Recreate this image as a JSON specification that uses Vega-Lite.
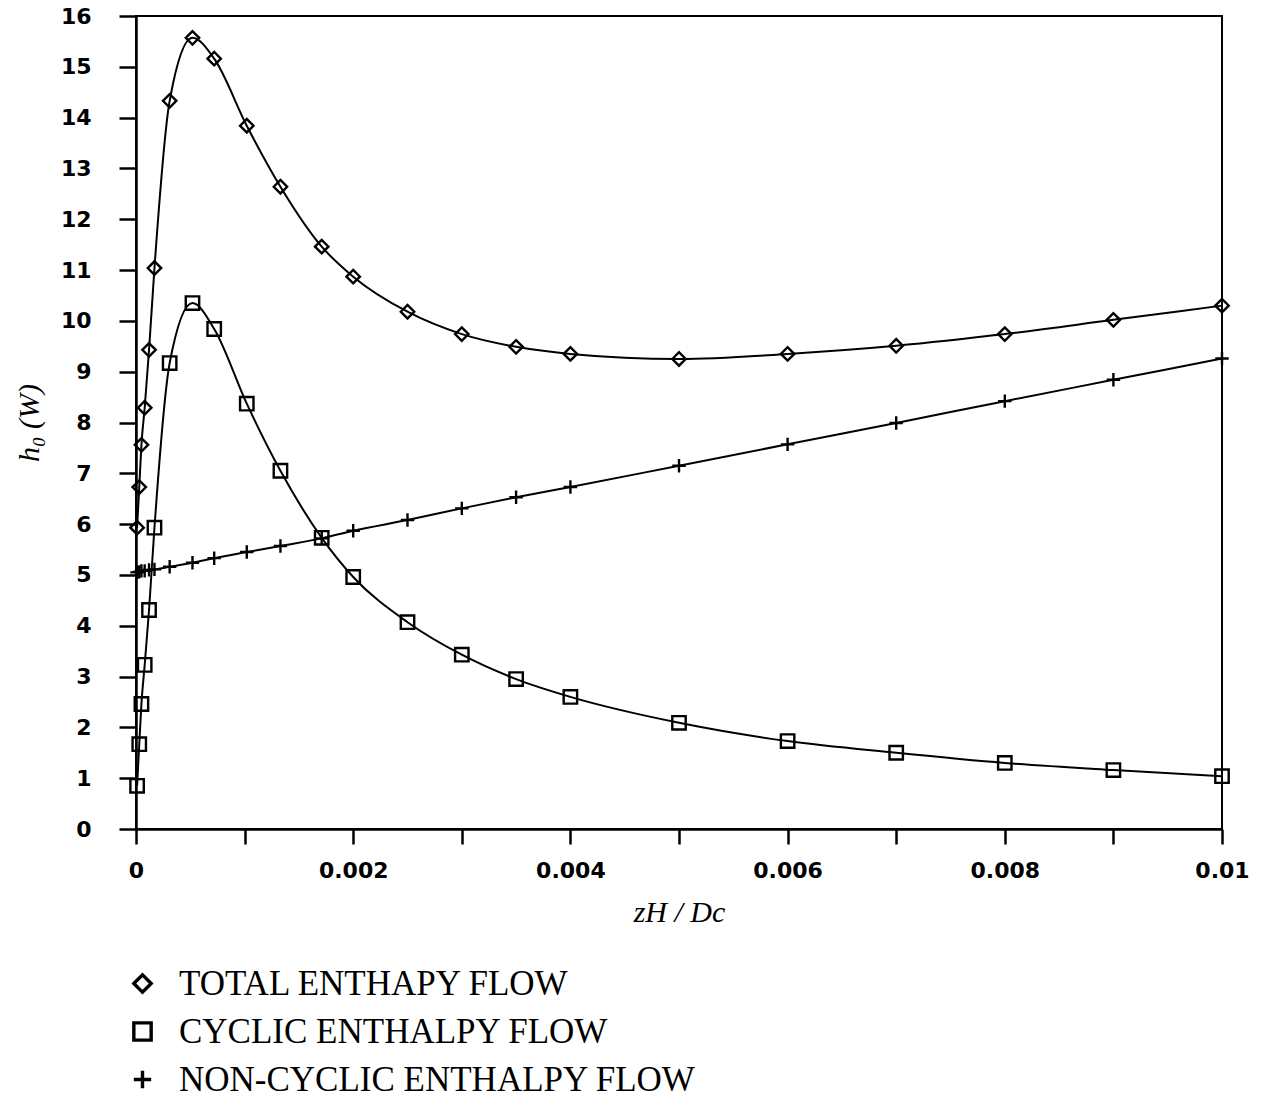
{
  "$schema": "https://vega.github.io/schema/vega-lite/v6.json",
  "autosize": "none",
  "padding": {"left": 136, "top": 16, "right": 39, "bottom": 268},
  "width": 1086,
  "height": 813,
  "background": "white",
  "config": {
    "view": {"stroke": "black", "strokeWidth": 2},
    "axis": {
      "grid": false,
      "domainColor": "black",
      "domainWidth": 2.5,
      "tickColor": "black",
      "tickWidth": 2.5,
      "labelFont": "DejaVu Sans",
      "labelFontSize": 22,
      "labelFontWeight": "bold",
      "labelColor": "black",
      "titleFont": "Liberation Serif",
      "titleFontStyle": "italic",
      "titleFontWeight": "normal",
      "titleFontSize": 30,
      "titleColor": "black"
    }
  },
  "data": {
    "values": [
      {"x": 0.00001, "series": "TOTAL ENTHAPY FLOW", "y": 5.93},
      {"x": 0.00003, "series": "TOTAL ENTHAPY FLOW", "y": 6.73},
      {"x": 0.00005, "series": "TOTAL ENTHAPY FLOW", "y": 7.56},
      {"x": 0.00008, "series": "TOTAL ENTHAPY FLOW", "y": 8.29},
      {"x": 0.00012, "series": "TOTAL ENTHAPY FLOW", "y": 9.43},
      {"x": 0.00017, "series": "TOTAL ENTHAPY FLOW", "y": 11.04},
      {"x": 0.00031, "series": "TOTAL ENTHAPY FLOW", "y": 14.33},
      {"x": 0.00052, "series": "TOTAL ENTHAPY FLOW", "y": 15.57},
      {"x": 0.00072, "series": "TOTAL ENTHAPY FLOW", "y": 15.16},
      {"x": 0.00102, "series": "TOTAL ENTHAPY FLOW", "y": 13.84},
      {"x": 0.00133, "series": "TOTAL ENTHAPY FLOW", "y": 12.64},
      {"x": 0.00171, "series": "TOTAL ENTHAPY FLOW", "y": 11.46},
      {"x": 0.002, "series": "TOTAL ENTHAPY FLOW", "y": 10.87},
      {"x": 0.0025, "series": "TOTAL ENTHAPY FLOW", "y": 10.18},
      {"x": 0.003, "series": "TOTAL ENTHAPY FLOW", "y": 9.74},
      {"x": 0.0035, "series": "TOTAL ENTHAPY FLOW", "y": 9.49},
      {"x": 0.004, "series": "TOTAL ENTHAPY FLOW", "y": 9.35},
      {"x": 0.005, "series": "TOTAL ENTHAPY FLOW", "y": 9.25},
      {"x": 0.006, "series": "TOTAL ENTHAPY FLOW", "y": 9.35},
      {"x": 0.007, "series": "TOTAL ENTHAPY FLOW", "y": 9.51},
      {"x": 0.008, "series": "TOTAL ENTHAPY FLOW", "y": 9.74},
      {"x": 0.009, "series": "TOTAL ENTHAPY FLOW", "y": 10.02},
      {"x": 0.01, "series": "TOTAL ENTHAPY FLOW", "y": 10.3},
      {"x": 0.00001, "series": "CYCLIC ENTHALPY FLOW", "y": 0.85},
      {"x": 0.00003, "series": "CYCLIC ENTHALPY FLOW", "y": 1.67},
      {"x": 0.00005, "series": "CYCLIC ENTHALPY FLOW", "y": 2.46},
      {"x": 0.00008, "series": "CYCLIC ENTHALPY FLOW", "y": 3.23},
      {"x": 0.00012, "series": "CYCLIC ENTHALPY FLOW", "y": 4.31},
      {"x": 0.00017, "series": "CYCLIC ENTHALPY FLOW", "y": 5.93},
      {"x": 0.00031, "series": "CYCLIC ENTHALPY FLOW", "y": 9.17},
      {"x": 0.00052, "series": "CYCLIC ENTHALPY FLOW", "y": 10.35},
      {"x": 0.00072, "series": "CYCLIC ENTHALPY FLOW", "y": 9.84},
      {"x": 0.00102, "series": "CYCLIC ENTHALPY FLOW", "y": 8.37},
      {"x": 0.00133, "series": "CYCLIC ENTHALPY FLOW", "y": 7.05},
      {"x": 0.00171, "series": "CYCLIC ENTHALPY FLOW", "y": 5.73},
      {"x": 0.002, "series": "CYCLIC ENTHALPY FLOW", "y": 4.96},
      {"x": 0.0025, "series": "CYCLIC ENTHALPY FLOW", "y": 4.07},
      {"x": 0.003, "series": "CYCLIC ENTHALPY FLOW", "y": 3.43},
      {"x": 0.0035, "series": "CYCLIC ENTHALPY FLOW", "y": 2.95},
      {"x": 0.004, "series": "CYCLIC ENTHALPY FLOW", "y": 2.6},
      {"x": 0.005, "series": "CYCLIC ENTHALPY FLOW", "y": 2.09},
      {"x": 0.006, "series": "CYCLIC ENTHALPY FLOW", "y": 1.73},
      {"x": 0.007, "series": "CYCLIC ENTHALPY FLOW", "y": 1.5},
      {"x": 0.008, "series": "CYCLIC ENTHALPY FLOW", "y": 1.3},
      {"x": 0.009, "series": "CYCLIC ENTHALPY FLOW", "y": 1.16},
      {"x": 0.01, "series": "CYCLIC ENTHALPY FLOW", "y": 1.04},
      {"x": 0.00001, "series": "NON-CYCLIC ENTHALPY FLOW", "y": 5.05},
      {"x": 0.00003, "series": "NON-CYCLIC ENTHALPY FLOW", "y": 5.06},
      {"x": 0.00005, "series": "NON-CYCLIC ENTHALPY FLOW", "y": 5.08},
      {"x": 0.00008, "series": "NON-CYCLIC ENTHALPY FLOW", "y": 5.08},
      {"x": 0.00012, "series": "NON-CYCLIC ENTHALPY FLOW", "y": 5.1},
      {"x": 0.00017, "series": "NON-CYCLIC ENTHALPY FLOW", "y": 5.11},
      {"x": 0.00031, "series": "NON-CYCLIC ENTHALPY FLOW", "y": 5.16},
      {"x": 0.00052, "series": "NON-CYCLIC ENTHALPY FLOW", "y": 5.24},
      {"x": 0.00072, "series": "NON-CYCLIC ENTHALPY FLOW", "y": 5.33},
      {"x": 0.00102, "series": "NON-CYCLIC ENTHALPY FLOW", "y": 5.45},
      {"x": 0.00133, "series": "NON-CYCLIC ENTHALPY FLOW", "y": 5.57},
      {"x": 0.00171, "series": "NON-CYCLIC ENTHALPY FLOW", "y": 5.72},
      {"x": 0.002, "series": "NON-CYCLIC ENTHALPY FLOW", "y": 5.87},
      {"x": 0.0025, "series": "NON-CYCLIC ENTHALPY FLOW", "y": 6.08},
      {"x": 0.003, "series": "NON-CYCLIC ENTHALPY FLOW", "y": 6.31},
      {"x": 0.0035, "series": "NON-CYCLIC ENTHALPY FLOW", "y": 6.53},
      {"x": 0.004, "series": "NON-CYCLIC ENTHALPY FLOW", "y": 6.73},
      {"x": 0.005, "series": "NON-CYCLIC ENTHALPY FLOW", "y": 7.15},
      {"x": 0.006, "series": "NON-CYCLIC ENTHALPY FLOW", "y": 7.57},
      {"x": 0.007, "series": "NON-CYCLIC ENTHALPY FLOW", "y": 7.99},
      {"x": 0.008, "series": "NON-CYCLIC ENTHALPY FLOW", "y": 8.42},
      {"x": 0.009, "series": "NON-CYCLIC ENTHALPY FLOW", "y": 8.84},
      {"x": 0.01, "series": "NON-CYCLIC ENTHALPY FLOW", "y": 9.26}
    ]
  },
  "encoding": {
    "x": {
      "field": "x",
      "type": "quantitative",
      "scale": {"domain": [0, 0.01], "nice": false, "zero": false},
      "axis": {
        "title": "zH / Dc",
        "values": [0, 0.001, 0.002, 0.003, 0.004, 0.005, 0.006, 0.007, 0.008, 0.009, 0.01],
        "labelExpr": "round(datum.value * 1000) % 2 == 0 ? format(datum.value, '.3~f') : ''",
        "labelOverlap": false,
        "labelFlush": false,
        "tickSize": 15,
        "labelPadding": 16,
        "titlePadding": 16
      }
    },
    "y": {
      "field": "y",
      "type": "quantitative",
      "scale": {"domain": [0, 16], "nice": false},
      "axis": {
        "title": "h₀ (W)",
        "values": [0, 1, 2, 3, 4, 5, 6, 7, 8, 9, 10, 11, 12, 13, 14, 15, 16],
        "tickSize": 17,
        "labelPadding": 28,
        "labelFlush": false,
        "labelOverlap": false,
        "titlePadding": 16
      }
    }
  },
  "layer": [
    {
      "mark": {"type": "line", "color": "black", "strokeWidth": 2, "interpolate": "monotone"},
      "encoding": {"detail": {"field": "series"}}
    },
    {
      "mark": {"type": "point", "filled": false, "color": "black", "strokeWidth": 2.4, "size": 180, "opacity": 1},
      "encoding": {
        "shape": {
          "field": "series",
          "type": "nominal",
          "scale": {
            "domain": ["TOTAL ENTHAPY FLOW", "CYCLIC ENTHALPY FLOW", "NON-CYCLIC ENTHALPY FLOW"],
            "range": ["diamond", "square", "M-1,0H1M0,-1V1"]
          },
          "legend": {
            "title": null,
            "orient": "none",
            "legendX": -11,
            "legendY": 950,
            "direction": "vertical",
            "padding": 0,
            "labelFont": "Liberation Serif",
            "labelFontSize": 35,
            "labelColor": "black",
            "labelOffset": 19,
            "labelLimit": 800,
            "symbolSize": 300,
            "symbolStrokeWidth": 3.4,
            "symbolStrokeColor": "black",
            "symbolFillColor": "transparent",
            "rowPadding": 12
          }
        }
      }
    }
  ]
}
